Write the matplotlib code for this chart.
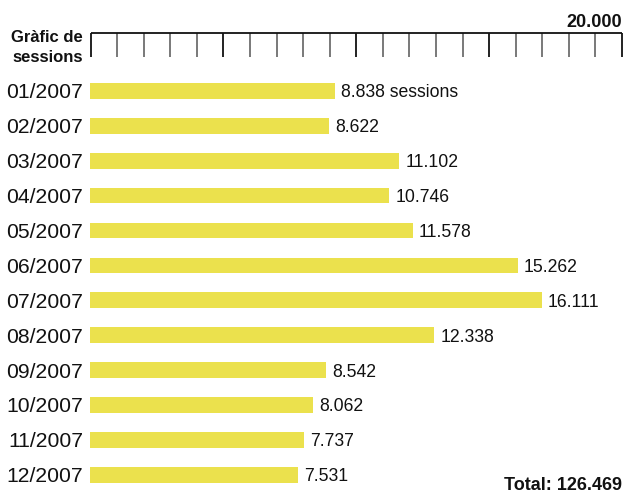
import numpy as np
import matplotlib.pyplot as plt

plt.rcParams['font.family'] = ['Liberation Sans', 'DejaVu Sans']

months = ["01/2007", "02/2007", "03/2007", "04/2007", "05/2007", "06/2007",
          "07/2007", "08/2007", "09/2007", "10/2007", "11/2007", "12/2007"]
sessions = [8838, 8622, 11102, 10746, 11578, 15262,
            16111, 12338, 8542, 8062, 7737, 7531]
ruler_max = 20000
ruler_step = 1000


def fmt(v):
    return f"{v:,}".replace(",", ".")


W, H = 625, 493
fig = plt.figure(figsize=(W / 100, H / 100), dpi=100)

# bars
ax = fig.add_axes([90 / W, 0, 535 / W, 423 / H])
y = np.arange(len(months))
ax.barh(y, sessions, height=0.45, color="#ebe14d", edgecolor="none")
ax.set_xlim(228, 228 + 535 / 0.02844)
ax.set_ylim(11.525, -0.602)
ax.set_yticks(y)
ax.set_yticklabels(months, fontsize=15.2, color="#111")
ax.tick_params(axis="y", length=0, pad=5)
ax.set_xticks([])
for s in ax.spines.values():
    s.set_visible(False)

for i, v in enumerate(sessions):
    label = fmt(v) + (" sessions" if i == 0 else "")
    ax.annotate(label, (v, i), xytext=(4.5, 0), textcoords="offset points",
                va="center_baseline", ha="left", fontsize=12.7, color="#111")

# ruler
rax = fig.add_axes([90.5 / W, (H - 57) / H, 531.5 / W, 24 / H])
rax.set_xlim(0, ruler_max)
rax.set_ylim(0, 1)
ticks = np.arange(0, ruler_max + 1, ruler_step)
major = ticks[ticks % 5000 == 0]
minor = ticks[ticks % 5000 != 0]
rax.vlines(minor, 0, 1, color="#555", lw=1.1, clip_on=False)
rax.vlines(major, 0, 1, color="#111", lw=1.3, clip_on=False)
rax.hlines(1, 0, ruler_max, color="#111", lw=1.3, clip_on=False)
rax.axis("off")

fig.text(83 / W, 1 - 41.7 / H, "Gràfic de", ha="right", va="baseline",
         fontsize=12, fontweight="bold", color="#111")
fig.text(83 / W, 1 - 61.7 / H, "sessions", ha="right", va="baseline",
         fontsize=12, fontweight="bold", color="#111")
fig.text(622 / W, 1 - 26.7 / H, fmt(ruler_max), ha="right", va="baseline",
         fontsize=13, fontweight="bold", color="#111")
fig.text(622 / W, 1 - 490 / H, "Total: " + fmt(sum(sessions)), ha="right",
         va="baseline", fontsize=13, fontweight="bold", color="#111")

fig.savefig("out.png", dpi=100)
